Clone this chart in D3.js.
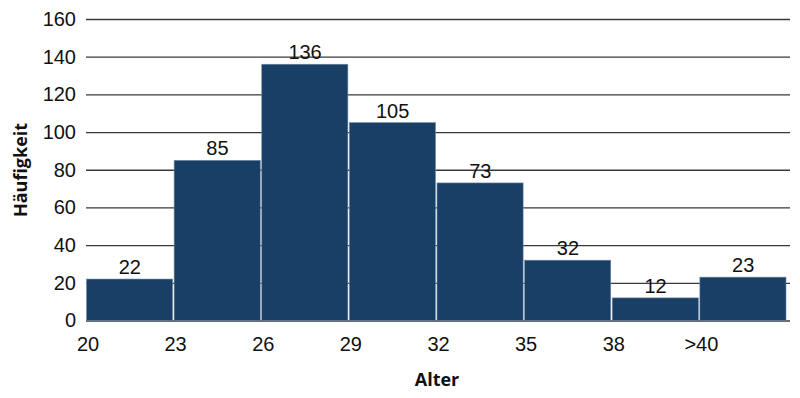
<!DOCTYPE html>
<html>
<head>
<meta charset="utf-8">
<script src="https://cdn.jsdelivr.net/npm/d3@7"></script>
<style>
  body { margin: 0; background: #fff; }
  text { font-family: "Liberation Sans", Arial, sans-serif; fill: #111; }
</style>
</head>
<body>
<div class="chart"></div>
<script>
// data
var binLabels = ["20", "23", "26", "29", "32", "35", "38", ">40"];
var counts = [22, 85, 136, 105, 73, 32, 12, 23];
var yTicks = [0, 20, 40, 60, 80, 100, 120, 140, 160];

var svgWidth = 800;
var svgHeight = 398;

var margin = { top: 19, right: 11, bottom: 77.5, left: 86 };
var width = 787 - margin.left;
var height = svgHeight - margin.top - margin.bottom;

var svg = d3.select(".chart")
  .append("svg")
  .attr("width", svgWidth)
  .attr("height", svgHeight);

var chartGroup = svg.append("g")
  .attr("transform", `translate(${margin.left}, ${margin.top})`);

// scales
var xScale = d3.scaleBand()
  .domain(binLabels)
  .range([0, width])
  .paddingInner(0)
  .paddingOuter(0);

var yScale = d3.scaleLinear()
  .domain([0, 160])
  .range([height, 0]);

// horizontal gridlines + y labels
var yAxis = chartGroup.append("g")
  .call(d3.axisLeft(yScale).tickValues(yTicks).tickSize(-(width + 3)).tickPadding(10));
yAxis.select(".domain").remove();
yAxis.selectAll(".tick line")
  .attr("stroke", "#3a3a3a")
  .attr("stroke-width", 1.3);
yAxis.selectAll(".tick text")
  .style("font-size", "20px")
  .style("font-family", "'Liberation Sans', Arial, sans-serif")
  .attr("fill", "#111");

// bars
chartGroup.selectAll(".bar")
  .data(counts)
  .enter()
  .append("rect")
  .attr("class", "bar")
  .attr("x", (d, i) => xScale(binLabels[i]) + 0.5)
  .attr("y", d => yScale(d))
  .attr("width", xScale.bandwidth() - 1.5)
  .attr("height", d => height - yScale(d))
  .attr("fill", "#1a3f66")
  .attr("stroke", "#6f8aa6")
  .attr("stroke-width", 0.6);

// value labels
chartGroup.selectAll(".vlabel")
  .data(counts)
  .enter()
  .append("text")
  .attr("class", "vlabel")
  .attr("text-anchor", "middle")
  .attr("x", (d, i) => xScale(binLabels[i]) + xScale.bandwidth() / 2)
  .attr("y", d => yScale(d) - 5)
  .style("font-size", "20px")
  .text(d => d);

// x tick labels sit at the left edge of each bin
var xAxis = chartGroup.append("g")
  .attr("transform", `translate(0, ${height})`);
xAxis.selectAll("text")
  .data(binLabels)
  .enter()
  .append("text")
  .attr("text-anchor", "middle")
  .attr("x", d => xScale(d) + 2)
  .attr("y", 30.5)
  .style("font-size", "20px")
  .text(d => d);

// axis titles
svg.append("text")
  .attr("transform", "translate(27, 170) rotate(-90)")
  .attr("text-anchor", "middle")
  .style("font-family", "'Open Sans', sans-serif")
  .style("font-weight", "bold")
  .style("font-size", "18px")
  .text("Häufigkeit");

svg.append("text")
  .attr("x", 437)
  .attr("y", 386)
  .attr("text-anchor", "middle")
  .style("font-family", "'Open Sans', sans-serif")
  .style("font-weight", "bold")
  .style("font-size", "18px")
  .text("Alter");
</script>
</body>
</html>
